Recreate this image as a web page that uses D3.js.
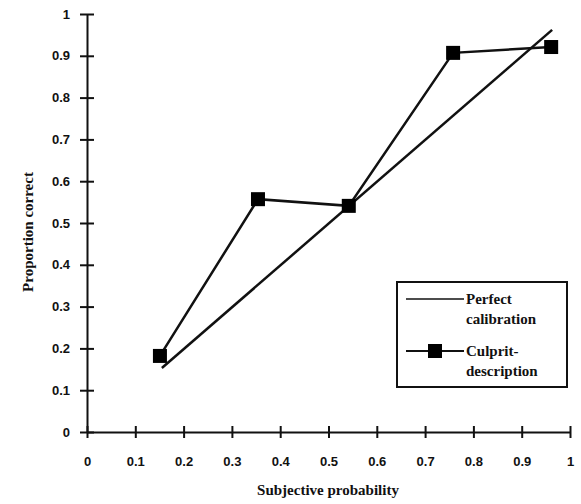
<!DOCTYPE html>
<html>
<head>
<meta charset="utf-8">
<script src="https://cdn.jsdelivr.net/npm/d3@7"></script>
<style>
body { margin: 0; background: #fff; }
svg { display: block; }
.tick text { font-family: "Liberation Sans", Arial, sans-serif; font-weight: bold; font-size: 13px; fill: #111; }
.title { font-family: "Liberation Serif", "Times New Roman", serif; font-weight: bold; font-size: 15px; fill: #111; }
.leg { font-family: "Liberation Serif", "Times New Roman", serif; font-weight: bold; font-size: 15px; fill: #111; }
</style>
</head>
<body>
<svg width="581" height="504"></svg>
<script>
// data
const perfectX = [0.155, 0.963]
const perfectY = [0.153, 0.962]
const culpritX = [0.151, 0.354, 0.542, 0.758, 0.961]
const culpritY = [0.182, 0.557, 0.541, 0.907, 0.921]
const tickVals = [0, 0.1, 0.2, 0.3, 0.4, 0.5, 0.6, 0.7, 0.8, 0.9, 1]

const svg = d3.select("svg")

const x = d3.scaleLinear().domain([0, 1]).range([87, 570])
const y = d3.scaleLinear().domain([0, 1]).range([432, 14])

// axes with ticks crossing the line
const xAxis = d3.axisBottom(x)
	.tickValues(tickVals)
	.tickFormat(d => d3.format("")(d))
	.tickSizeInner(6)
	.tickSizeOuter(0)
	.tickPadding(19)

const yAxis = d3.axisLeft(y)
	.tickValues(tickVals)
	.tickFormat(d => d3.format("")(d))
	.tickSizeInner(7)
	.tickSizeOuter(0)
	.tickPadding(10)

const gx = svg.append("g")
	.attr("transform", "translate(0,432)")
	.call(xAxis)
gx.selectAll(".tick line").attr("y1", -6).attr("y2", 6)

const gy = svg.append("g")
	.attr("transform", "translate(87,0)")
	.call(yAxis)
gy.selectAll(".tick line").attr("x1", 7).attr("x2", -7)

svg.selectAll(".domain, .tick line").attr("stroke", "#111").attr("stroke-width", 2)

// perfect calibration
const line = d3.line().x(d => x(d[0])).y(d => y(d[1]))
svg.append("path")
	.attr("d", line(d3.zip(perfectX, perfectY)))
	.attr("fill", "none").attr("stroke", "#111").attr("stroke-width", 2.5)

// culprit-description
const cData = d3.zip(culpritX, culpritY)
svg.append("path")
	.attr("d", line(cData))
	.attr("fill", "none").attr("stroke", "#111").attr("stroke-width", 2.5)

svg.selectAll("rect.pt")
	.data(cData)
	.enter()
	.append("rect")
	.attr("class", "pt")
	.attr("x", d => x(d[0]) - 7)
	.attr("y", d => y(d[1]) - 7)
	.attr("width", 14).attr("height", 14)
	.attr("fill", "#000")

// axis titles
svg.append("text").attr("class", "title")
	.attr("x", 328).attr("y", 495)
	.attr("text-anchor", "middle")
	.text("Subjective probability")

svg.append("text").attr("class", "title")
	.attr("transform", "translate(33,232) rotate(-90)")
	.attr("text-anchor", "middle")
	.text("Proportion correct")

// legend
const leg = svg.append("g")
leg.append("rect")
	.attr("x", 397).attr("y", 282).attr("width", 170).attr("height", 105)
	.attr("fill", "#fff").attr("stroke", "#111").attr("stroke-width", 2)
leg.append("line")
	.attr("x1", 406).attr("x2", 464).attr("y1", 299).attr("y2", 299)
	.attr("stroke", "#111").attr("stroke-width", 1.5)
leg.append("line")
	.attr("x1", 406).attr("x2", 464).attr("y1", 351).attr("y2", 351)
	.attr("stroke", "#111").attr("stroke-width", 2)
leg.append("rect")
	.attr("x", 428).attr("y", 344).attr("width", 14).attr("height", 14)
	.attr("fill", "#000")
const legText = [["Perfect", 304], ["calibration", 324], ["Culprit-", 356], ["description", 376]]
leg.selectAll("text")
	.data(legText)
	.enter()
	.append("text")
	.attr("class", "leg")
	.attr("x", 466)
	.attr("y", d => d[1])
	.text(d => d[0])
</script>
</body>
</html>
